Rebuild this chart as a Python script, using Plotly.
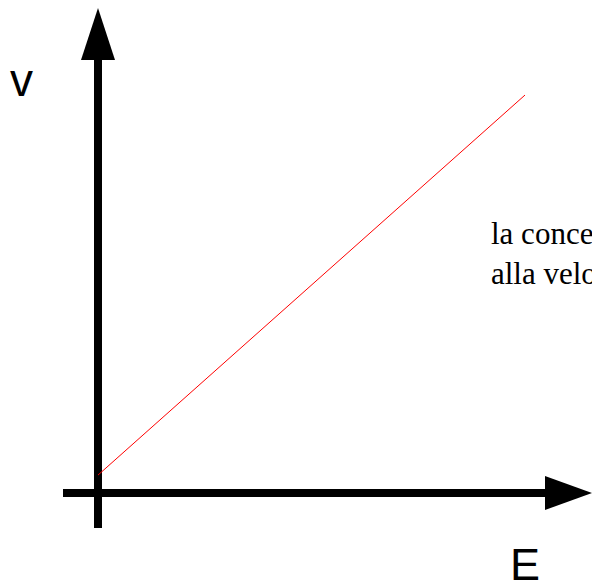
import plotly.graph_objects as go

# Data (equal units on both axes)
E_values = [0, 10]
v_values = [0.42, 9.32]
axis_labels = ["E", "v"]
note_lines = ["la concentrazione", "alla velocità"]

W, H = 592, 581
PX = 42.7            # pixels per unit
X0_PX, Y0_PX = 98, 493   # origin position in pixels


def ux(px):
    return (px - X0_PX) / PX


def uy(py):
    return (Y0_PX - py) / PX


fig = go.Figure()
fig.add_trace(go.Scatter(x=E_values, y=v_values, mode="lines",
                         line=dict(color="#ff0000", width=1),
                         hoverinfo="skip", showlegend=False))

shapes = [
    dict(type="line", x0=0, x1=0, y0=uy(528), y1=uy(58),
         line=dict(color="black", width=8), layer="below"),
    dict(type="path",
         path=f"M {ux(81)},{uy(60)} L {ux(115)},{uy(60)} L {ux(98)},{uy(8)} Z",
         fillcolor="black", line=dict(width=0), layer="below"),
    dict(type="line", x0=ux(63), x1=ux(547), y0=0, y1=0,
         line=dict(color="black", width=8), layer="below"),
    dict(type="path",
         path=f"M {ux(545)},{uy(476)} L {ux(545)},{uy(510)} L {ux(592)},{uy(493)} Z",
         fillcolor="black", line=dict(width=0), layer="below"),
]

annotations = [
    dict(x=ux(21), y=uy(80), text=axis_labels[1], showarrow=False,
         xanchor="center", yanchor="middle",
         font=dict(family="Liberation Sans", size=46, color="black")),
    dict(x=ux(525), y=uy(564), text=axis_labels[0], showarrow=False,
         xanchor="center", yanchor="middle",
         font=dict(family="Liberation Sans", size=45, color="black")),
    dict(x=ux(489), y=uy(253), text="<br>".join(note_lines), showarrow=False,
         xanchor="left", yanchor="middle", align="left",
         font=dict(family="Liberation Serif", size=31, color="black")),
]

fig.update_layout(
    width=W, height=H,
    margin=dict(l=0, r=0, t=0, b=0),
    paper_bgcolor="white", plot_bgcolor="white",
    xaxis=dict(range=[ux(0), ux(W)], visible=False, fixedrange=True),
    yaxis=dict(range=[uy(H), uy(0)], visible=False, fixedrange=True),
    shapes=shapes, annotations=annotations,
    showlegend=False,
)

fig.write_html("out.html", config={"displayModeBar": False},
               post_script="document.body.style.margin='0';")
